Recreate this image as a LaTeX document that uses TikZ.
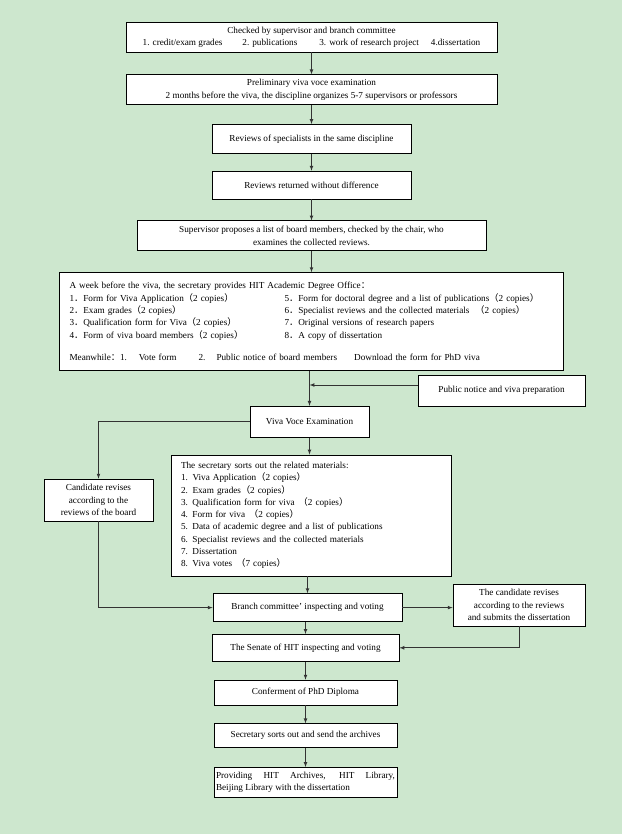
\documentclass[tikz,border=0pt]{standalone}
\usepackage{fontspec}
\setmainfont{Liberation Serif}
\newfontfamily\cjk{Noto Sans CJK SC}
\usepackage{xcolor}
\usepackage{tikz}
\usetikzlibrary{arrows, positioning}

\definecolor{bgcolor}{RGB}{205,231,206}
\newcommand{\lp}{{\cjk （}}
\newcommand{\rp}{{\cjk ）}}
\newcommand{\fcolon}{{\cjk ：}}
\newcommand{\fdot}{{\cjk ．}}

\begin{document}
\begin{tikzpicture}[
    x=1pt, y=1pt,
    auto,
    block/.style={rectangle, draw, fill=white, align=center, inner sep=2pt, line width=0.7pt, font=\fontsize{9.2}{12.3}\selectfont},
    line/.style={draw, -latex, line width=0.7pt, black!80}
]
    \fill [bgcolor] (0,0) rectangle (622,-834);
    \useasboundingbox (0,0) rectangle (622,-834);

    \node [block, minimum width=371pt, minimum height=30pt] (checked) at (311.5,-37) {Checked by supervisor and branch committee\\1. credit/exam grades\hspace{20pt}2. publications\hspace{22pt}3. work of research project\hspace{12pt}4.dissertation};
    \node [block, below=22pt of checked, minimum width=371pt, minimum height=30pt] (prelim) {Preliminary viva voce examination\\2 months before the viva, the discipline organizes 5-7 supervisors or professors};
    \node [block, below=19pt of prelim, minimum width=199pt, minimum height=29pt] (specialists) {Reviews of specialists in the same discipline};
    \node [block, below=17pt of specialists, minimum width=199pt, minimum height=28pt] (returned) {Reviews returned without difference};
    \node [block, below=21pt of returned, minimum width=349pt, minimum height=30pt] (board) {Supervisor proposes a list of board members, checked by the chair, who\\examines the collected reviews.};
    \node [block, below=21pt of board, minimum width=504pt, minimum height=98pt, align=left, inner xsep=10pt, text width=484pt] (week) {A week before the viva, the secretary provides HIT Academic Degree Office\fcolon\\
        \makebox[215pt][l]{1\fdot Form for Viva Application\lp2 copies\rp}5\fdot Form for doctoral degree and a list of publications\lp2 copies\rp\\
        \makebox[215pt][l]{2\fdot Exam grades\lp2 copies\rp}6\fdot Specialist reviews and the collected materials\hspace{6pt}\lp2 copies\rp\\
        \makebox[215pt][l]{3\fdot Qualification form for Viva\lp2 copies\rp}7\fdot Original versions of research papers\\
        \makebox[215pt][l]{4\fdot Form of viva board members\lp2 copies\rp}8\fdot A copy of dissertation\\[10pt]
        Meanwhile\fcolon 1.\hspace{12pt}Vote form\hspace{22pt}2.\hspace{11pt}Public notice of board members\hspace{17pt}Download the form for PhD viva};
    \node [block, below=35pt of week, xshift=-2pt, minimum width=119pt, minimum height=31pt] (viva) {Viva Voce Examination};
    \node [block, minimum width=167pt, minimum height=31pt] (notice) at (501.5,-390.5) {Public notice and viva preparation};
    \node [block, below=17pt of viva, xshift=1.5pt, minimum width=280pt, minimum height=121pt, align=left, inner xsep=10pt, text width=260pt] (materials) {The secretary sorts out the related materials:\\
        1. Viva Application\lp2 copies\rp\\
        2. Exam grades\lp2 copies\rp\\
        3. Qualification form for viva\hspace{4pt}\lp2 copies\rp\\
        4. Form for viva\hspace{4pt}\lp2 copies\rp\\
        5. Data of academic degree and a list of publications\\
        6. Specialist reviews and the collected materials\\
        7. Dissertation\\
        8. Viva votes\hspace{4pt}\lp7 copies\rp};
    \node [block, minimum width=109pt, minimum height=42pt] (revise) at (98.5,-500) {Candidate revises\\according to the\\reviews of the board};
    \node [block, below=17pt of materials, xshift=-3.5pt, minimum width=189pt, minimum height=28pt] (branch) {Branch committee' inspecting and voting};
    \node [block, minimum width=132pt, minimum height=42pt] (submit) at (519,-605) {The candidate revises\\according to the reviews\\and submits the dissertation};
    \node [block, below=12pt of branch, xshift=-2pt, minimum width=187pt, minimum height=27pt] (senate) {The Senate of HIT inspecting and voting};
    \node [block, below=18pt of senate, minimum width=183pt, minimum height=25pt] (diploma) {Conferment of PhD Diploma};
    \node [block, below=18pt of diploma, minimum width=183pt, minimum height=24pt] (archives) {Secretary sorts out and send the archives};
    \node [block, below=19pt of archives, minimum width=183pt, minimum height=30pt, align=justify, text width=179pt] (library) {Providing HIT Archives, HIT Library,\linebreak Beijing Library with the dissertation};

    \path [line] (checked) -- (prelim);
    \path [line] (prelim) -- (specialists);
    \path [line] (specialists) -- (returned);
    \path [line] (returned) -- (board);
    \path [line] (board) -- (week);
    \path [line] (viva.north |- week.south) -- (viva.north);
    \path [line] (notice.west |- 0,-385) -- (viva.north |- 0,-385);
    \path [line] (viva.west) -| (revise.north);
    \path [line] (viva.south) -- (viva.south |- materials.north);
    \path [line] (revise.south) |- (branch.west);
    \path [line] (branch.north |- materials.south) -- (branch.north);
    \path [line] (branch.east) -- (branch.east -| submit.west);
    \path [line] (submit.south) |- (senate.east);
    \path [line] (branch.south -| senate.north) -- (senate.north);
    \path [line] (senate) -- (diploma);
    \path [line] (diploma) -- (archives);
    \path [line] (archives) -- (library);
\end{tikzpicture}
\end{document}
